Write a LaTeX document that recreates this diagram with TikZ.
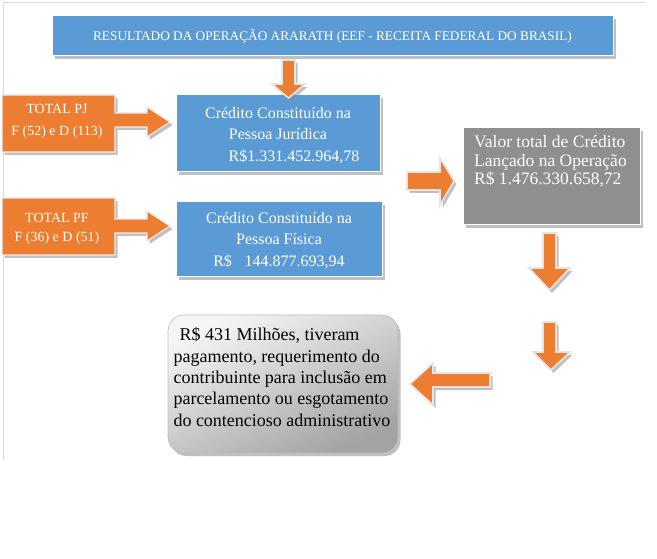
\documentclass[tikz,border=0pt]{standalone}
\usepackage{fontspec}
\setmainfont{Liberation Serif}
\usetikzlibrary{shadows}
\definecolor{obl}{HTML}{5B9BD5}
\definecolor{oor}{HTML}{ED7D31}
\definecolor{ogr}{HTML}{8F8F8F}
\begin{document}
\begin{tikzpicture}[x=1pt,y=-1pt,
  shad/.style={drop shadow={shadow xshift=2.5pt,shadow yshift=-3pt,fill=black!45,opacity=0.55}},
  bluebox/.style={shad,draw=white,line width=1pt,fill=obl,text=white,align=center,inner sep=0pt},
  graybox/.style={shad,draw=white,line width=1pt,fill=ogr,inner sep=0pt},
  roundbox/.style={shad,draw=black!25,line width=0.6pt,rounded corners=16pt,
     shading=axis,top color=black!4,bottom color=black!36,shading angle=25,inner sep=0pt},
  orshape/.style={shad,fill=oor,draw=black!8,line width=1.2pt,line join=miter},
  arw/.style={shad,fill=oor,draw=black!10,line width=1.6pt,line join=miter},
  ortext/.style={text=white,align=center,inner sep=0pt,font=\fontsize{14}{22}\selectfont},
  bltext/.style={text=white,align=center,inner sep=0pt,font=\fontsize{16}{21.5}\selectfont},
  frame/.style={draw=black!15,line width=0.8pt}]
\useasboundingbox (0,0) rectangle (657,559);
\coordinate (fa) at (3,460);
\coordinate (fb) at (3,2);
\coordinate (fc) at (645,2);
\draw[frame] (fa) -- (fb) -- (fc);

% title
\node[bluebox,minimum width=561pt,minimum height=40pt,font=\fontsize{13.3}{16}\selectfont]
  (title) at (332.5,36) {RESULTADO DA OPERAÇÃO ARARATH (EEF - RECEITA FEDERAL DO BRASIL)};

% blue boxes
\node[bluebox,minimum width=204pt,minimum height=77pt] (pj) at (278,133.5) {};
\node[bltext] (pjt) at (278,135.5) {Crédito Constituído na\\Pessoa Jurídica\\\hspace*{32pt}R\$1.331.452.964,78};
\node[bluebox,minimum width=206pt,minimum height=75pt] (pf) at (279,239.5) {};
\node[bltext] (pft) at (279,240.5) {Crédito Constituído na\\Pessoa Física\\R\$\hspace{0.8em}144.877.693,94};

% orange callouts
\path[orshape] (2,95) -- (115,95) -- (115,113) -- (147,113) -- (147,107) -- (170,122)
  -- (147,137) -- (147,127) -- (115,127) -- (115,152) -- (2,152) -- cycle;
\node[ortext] (opj) at (57,121) {TOTAL PJ\\F (52) e D (113)};
\path[orshape] (2,198) -- (115,198) -- (115,219) -- (147,219) -- (147,211) -- (170,226)
  -- (147,241) -- (147,233) -- (115,233) -- (115,255) -- (2,255) -- cycle;
\node[ortext,font=\fontsize{14}{19.5}\selectfont] (opf) at (57,229) {TOTAL PF\\F (36) e D (51)};

% gray total box
\node[graybox,minimum width=177pt,minimum height=97pt] (tot) at (551.5,176.5) {};
\node[anchor=north west,align=left,text=white,inner sep=0pt,font=\fontsize{17.5}{18.8}\selectfont]
  (tott) at (474,135) {Valor total de Crédito\\Lançado na Operação\\R\$ 1.476.330.658,72};

% rounded result box
\node[roundbox,minimum width=230pt,minimum height=138pt] (rb) at (283,384) {};
\node[align=left,inner sep=0pt,font=\fontsize{18}{21.3}\selectfont]
  (rbt) at (282,377) {\hspace*{6pt}R\$ 431 Milhões, tiveram\\pagamento, requerimento do\\contribuinte para inclusão em\\parcelamento ou esgotamento\\do contencioso administrativo};

% block arrows
\path[arw] (282,60) -- (295,60) -- (295,84) -- (305,84) -- (288.5,98) -- (272,84) -- (282,84) -- cycle;
\path[arw] (407,172) -- (440,172) -- (440,158) -- (454,181) -- (440,205) -- (440,190) -- (407,190) -- cycle;
\path[arw] (543,233) -- (556,233) -- (556,268) -- (570,268) -- (549.5,290) -- (529,268) -- (543,268) -- cycle;
\path[arw] (543,322) -- (556,322) -- (556,352) -- (570,352) -- (551,370) -- (533,352) -- (543,352) -- cycle;
\path[arw] (490,373) -- (433,373) -- (433,363) -- (410,384) -- (433,405) -- (433,387) -- (490,387) -- cycle;
\end{tikzpicture}
\end{document}
